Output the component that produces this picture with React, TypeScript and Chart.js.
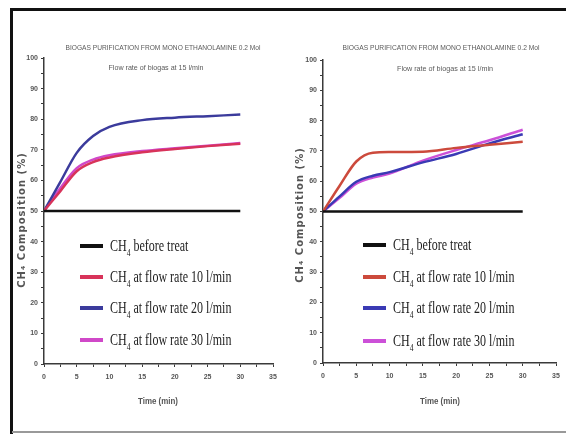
import React, { useEffect, useRef } from "react";
import { Chart, registerables } from "chart.js";

Chart.register(...registerables);

// ---------- data ----------
const TIME_BEFORE = [0, 30];
const CH4_BEFORE = [50, 50];
const TIME = [0, 2.5, 5, 7.5, 10, 15, 20, 25, 30];

// Left panel
const LEFT_10 = [50, 56.5, 63, 66, 67.5, 69.2, 70.3, 71.2, 72];
const LEFT_20 = [50, 59.5, 69, 74.5, 77.5, 79.7, 80.5, 81, 81.5];
const LEFT_30 = [50, 57.5, 64, 66.8, 68.2, 69.6, 70.5, 71.3, 72.2];

// Right panel
const RIGHT_10 = [50, 58.5, 66.5, 69.4, 69.6, 69.7, 71, 72, 73];
const RIGHT_20 = [50, 55, 59.8, 61.8, 63, 66.2, 69, 72.5, 75.5];
const RIGHT_30 = [50, 54.5, 59.2, 61.2, 62.5, 66.8, 70.3, 73.5, 77];

const LEGEND_SUFFIX = [" before treat", " at flow rate 10 l/min", " at flow rate 20 l/min", " at flow rate 30 l/min"];
const LEFT_COLORS = ["#111111", "#d8335a", "#3b3b9c", "#d048c8"];
const RIGHT_COLORS = ["#111111", "#cc4a3c", "#3a3ab4", "#cc50d8"];

const TITLE_1 = "BIOGAS PURIFICATION FROM MONO ETHANOLAMINE 0.2 Mol";
const LEFT_TITLE_2 = "Flow rate of biogas at 15 l/min";
const RIGHT_TITLE_2 = "Flow rate of biogas at 15 l/min";
const Y_TITLE = "CH\u2084 Composition (%)";
const X_TITLE = "Time (min)";

const X_MAX = 35;
const Y_MAX = 100;

// ---------- plugin ----------
const panelText = {
  id: "panelText",
  afterDraw(chart: any, _args: any, o: any) {
    const ctx = chart.ctx as CanvasRenderingContext2D;
    ctx.save();
    // titles
    ctx.fillStyle = "#5a5a5a";
    ctx.textAlign = "center";
    ctx.textBaseline = "middle";
    ctx.font = "8px 'Liberation Sans', Arial, sans-serif";
    ctx.fillText(o.title1, o.t1x, o.t1y, o.t1w);
    ctx.fillText(o.title2, o.t2x, o.t2y, o.t2w);

    // x title
    ctx.fillStyle = "#555";
    ctx.font = "bold 9px 'Liberation Sans', Arial, sans-serif";
    ctx.fillText(o.xTitle, o.xtx, o.xty, 40);

    // y title
    ctx.save();
    ctx.translate(o.ytx, o.yty);
    ctx.rotate(-Math.PI / 2);
    ctx.fillStyle = "#555";
    ctx.font = "bold 10px 'DejaVu Sans', 'Liberation Sans', sans-serif";
    try { (ctx as any).letterSpacing = "1px"; } catch (e) {}
    ctx.fillText(o.yTitle, 0, 0);
    try { (ctx as any).letterSpacing = "0px"; } catch (e) {}
    ctx.restore();

    // legend
    const sx = 0.75;
    o.rows.forEach((ry: number, i: number) => {
      ctx.strokeStyle = o.colors[i];
      ctx.lineWidth = 4;
      ctx.beginPath();
      ctx.moveTo(o.lx, ry);
      ctx.lineTo(o.lx + 23, ry);
      ctx.stroke();

      ctx.save();
      ctx.translate(o.lx + 30, ry);
      ctx.scale(sx, 1);
      ctx.fillStyle = "#222";
      ctx.textAlign = "left";
      ctx.textBaseline = "alphabetic";
      ctx.font = "16px 'Liberation Serif', 'Times New Roman', serif";
      let x = 0;
      const base = 5;
      ctx.fillText("CH", x, base);
      x += ctx.measureText("CH").width;
      ctx.font = "10px 'Liberation Serif', 'Times New Roman', serif";
      ctx.fillText("4", x, base + 5);
      x += ctx.measureText("4").width;
      ctx.font = "16px 'Liberation Serif', 'Times New Roman', serif";
      ctx.fillText(o.suffix[i], x, base);
      ctx.restore();
    });
    ctx.restore();
  },
};

function makeConfig(series: number[][], colors: string[], textOpts: any, yWidth: number, xHeight: number, topPad: number) {
  const axisColor = "#3a3a3a";
  const tickFont = { size: 7, weight: "bold" as const, family: "'Liberation Sans', Arial, sans-serif" };
  return {
    type: "line" as const,
    data: {
      datasets: [
        {
          data: TIME_BEFORE.map((t, i) => ({ x: t, y: CH4_BEFORE[i] })),
          borderColor: colors[0],
          borderWidth: 2.5,
          pointRadius: 0,
        },
        ...series.map((s, k) => ({
          data: TIME.map((t, i) => ({ x: t, y: s[i] })),
          borderColor: colors[k + 1],
          borderWidth: 2.5,
          pointRadius: 0,
          cubicInterpolationMode: "monotone" as const,
        })),
      ],
    },
    options: {
      animation: false as const,
      responsive: false,
      devicePixelRatio: 1,
      layout: { padding: { top: topPad, right: 10, left: 0, bottom: 0 } },
      plugins: {
        legend: { display: false },
        tooltip: { enabled: false },
        panelText: textOpts,
      },
      scales: {
        x: {
          type: "linear" as const,
          min: 0,
          max: X_MAX,
          afterFit: (s: any) => { s.height = xHeight; },
          ticks: {
            stepSize: 2.5,
            autoSkip: false,
            maxRotation: 0,
            padding: 6,
            color: "#555",
            font: tickFont,
            callback: (v: any) => (Number(v) % 5 === 0 ? String(v) : ""),
          },
          grid: { drawOnChartArea: false, drawTicks: true, tickLength: 3, color: axisColor, lineWidth: 1 },
          border: { display: true, color: axisColor, width: 1.5 },
        },
        y: {
          min: 0,
          max: Y_MAX,
          afterFit: (s: any) => { s.width = yWidth; },
          ticks: {
            stepSize: 5,
            autoSkip: false,
            padding: 3,
            color: "#555",
            font: tickFont,
            callback: (v: any) => (Number(v) % 10 === 0 ? String(v) : ""),
          },
          grid: { drawOnChartArea: false, drawTicks: true, tickLength: 3, color: axisColor, lineWidth: 1 },
          border: { display: true, color: axisColor, width: 1.5 },
        },
      },
    },
    plugins: [panelText],
  };
}

function Panel(props: { config: any; left: number }) {
  const ref = useRef<HTMLCanvasElement | null>(null);
  useEffect(() => {
    if (!ref.current) return;
    const chart = new Chart(ref.current, props.config);
    return () => chart.destroy();
  }, []);
  return (
    <canvas
      ref={ref}
      width={283}
      height={434}
      style={{ position: "absolute", left: props.left, top: 0, width: 283, height: 434 }}
    />
  );
}

export default function App() {
  const leftCfg = makeConfig(
    [LEFT_10, LEFT_20, LEFT_30],
    LEFT_COLORS,
    {
      title1: TITLE_1, t1x: 163, t1y: 48, t1w: 195,
      title2: LEFT_TITLE_2, t2x: 156, t2y: 68, t2w: 95,
      xTitle: X_TITLE, xtx: 158, xty: 402,
      yTitle: Y_TITLE, ytx: 22, yty: 220,
      lx: 80, rows: [246, 277, 308, 340],
      colors: LEFT_COLORS, suffix: LEGEND_SUFFIX,
    },
    44, 70, 58
  );
  const rightCfg = makeConfig(
    [RIGHT_10, RIGHT_20, RIGHT_30],
    RIGHT_COLORS,
    {
      title1: TITLE_1, t1x: 158, t1y: 48, t1w: 197,
      title2: RIGHT_TITLE_2, t2x: 162, t2y: 69, t2w: 96,
      xTitle: X_TITLE, xtx: 157, xty: 402,
      yTitle: Y_TITLE, ytx: 17, yty: 215,
      lx: 80, rows: [245, 277, 308, 341],
      colors: RIGHT_COLORS, suffix: LEGEND_SUFFIX,
    },
    40, 71, 60
  );
  return (
    <div style={{ position: "absolute", left: 0, top: 0, width: 566, height: 434, background: "#fff", overflow: "hidden" }}>
      <div style={{ position: "absolute", left: 10, top: 8, width: 556, height: 3, background: "#111" }} />
      <div style={{ position: "absolute", left: 10, top: 8, width: 3, height: 426, background: "#111" }} />
      <div style={{ position: "absolute", left: 12, top: 431, width: 554, height: 2, background: "#999" }} />
      <Panel config={leftCfg} left={0} />
      <Panel config={rightCfg} left={283} />
    </div>
  );
}
